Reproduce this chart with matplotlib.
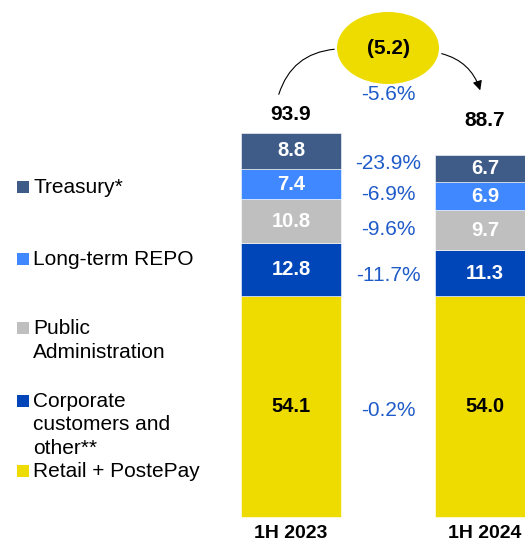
import matplotlib.pyplot as plt
from matplotlib.patches import Ellipse, Rectangle, FancyArrowPatch

plt.rcParams['font.family'] = ['Liberation Sans', 'DejaVu Sans']

# deposit mix, EUR bn
periods = ["1H 2023", "1H 2024"]
segments = ["Retail + PostePay", "Corporate\ncustomers and\nother**",
            "Public\nAdministration", "Long-term REPO", "Treasury*"]
values_2023 = [54.1, 12.8, 10.8, 7.4, 8.8]
values_2024 = [54.0, 11.3, 9.7, 6.9, 6.7]
totals = [93.9, 88.7]
pct_change = ["-0.2%", "-11.7%", "-9.6%", "-6.9%", "-23.9%"]
total_delta = "(5.2)"
total_pct = "-5.6%"

colors = ["#EEDC00", "#0046B8", "#BFBFBF", "#3F88FF", "#3E5C87"]
label_colors = ["black", "white", "white", "white", "white"]
blue_txt = "#1F5BC8"

W, H = 525, 544
fig = plt.figure(figsize=(W / 100, H / 100), dpi=100)
ax = fig.add_axes([0, 0, 1, 1])
ax.set_axis_off()

# 1 unit = ~4.09 px vertically, baseline at 517 px from the top
ppu = 4.09
ax.set_ylim(-(H - 517) / ppu, 517 / ppu)
ax.set_xlim(-1.5, 1.206)
width = 100 / 194

series = [values_2023, values_2024]
for i, vals in enumerate(series):
    bottom = 0
    for j, v in enumerate(vals):
        ax.bar(i, v, width, bottom=bottom, color=colors[j],
               edgecolor="white", linewidth=0.4)
        ax.text(i, bottom + v / 2, f"{v:.1f}", ha="center", va="center",
                fontsize=14.5, fontweight="bold", color=label_colors[j])
        bottom += v

# totals above the bars
ax.text(0, totals[0] + 4.4, f"{totals[0]:.1f}", ha="center", va="center",
        fontsize=15, fontweight="bold")
ax.text(1, totals[1] + 8.3, f"{totals[1]:.1f}", ha="center", va="center",
        fontsize=15, fontweight="bold")

# change per segment between the bars
b1 = b2 = 0
for j in range(len(segments)):
    m1 = b1 + values_2023[j] / 2
    m2 = b2 + values_2024[j] / 2
    ax.text(0.5, (m1 + m2) / 2 - 1, pct_change[j], ha="center", va="center",
            fontsize=15, color=blue_txt)
    b1 += values_2023[j]
    b2 += values_2024[j]

# category labels
for i, p in enumerate(periods):
    ax.text(i, -(534 - 517) / ppu, p, ha="center", va="center",
            fontsize=14, fontweight="bold")


def fpt(x, y):
    return (x / W, 1 - y / H)


# bubble with the absolute change
ell = Ellipse(fpt(388, 48), 102 / W, 72 / H, transform=fig.transFigure,
              facecolor="#EEDC00", edgecolor="none", zorder=3)
fig.patches.append(ell)
fig.text(*fpt(388, 48), total_delta, ha="center", va="center",
         fontsize=15, fontweight="bold", zorder=4)
fig.text(*fpt(388, 95), total_pct, ha="center", va="center",
         fontsize=15, color=blue_txt)

arc1 = FancyArrowPatch(fpt(278, 97), fpt(337, 49), transform=fig.transFigure,
                       connectionstyle="arc3,rad=-0.35", arrowstyle="-",
                       color="black", linewidth=0.8)
arc2 = FancyArrowPatch(fpt(439, 53), fpt(481, 93), transform=fig.transFigure,
                       connectionstyle="arc3,rad=-0.3", arrowstyle="-|>",
                       mutation_scale=14, color="black", linewidth=0.8)
fig.patches.extend([arc1, arc2])

# legend, drawn by hand
legend_y = [471, 401, 328, 259, 187]
for j, name in enumerate(segments):
    y = legend_y[j]
    fig.patches.append(Rectangle(fpt(17, y + 6), 12 / W, 12 / H,
                                 transform=fig.transFigure,
                                 facecolor=colors[j], edgecolor="none"))
    fig.text(*fpt(33, y - 9), name, ha="left", va="top", fontsize=15,
             linespacing=1.3)

fig.savefig("out.png", dpi=100)
